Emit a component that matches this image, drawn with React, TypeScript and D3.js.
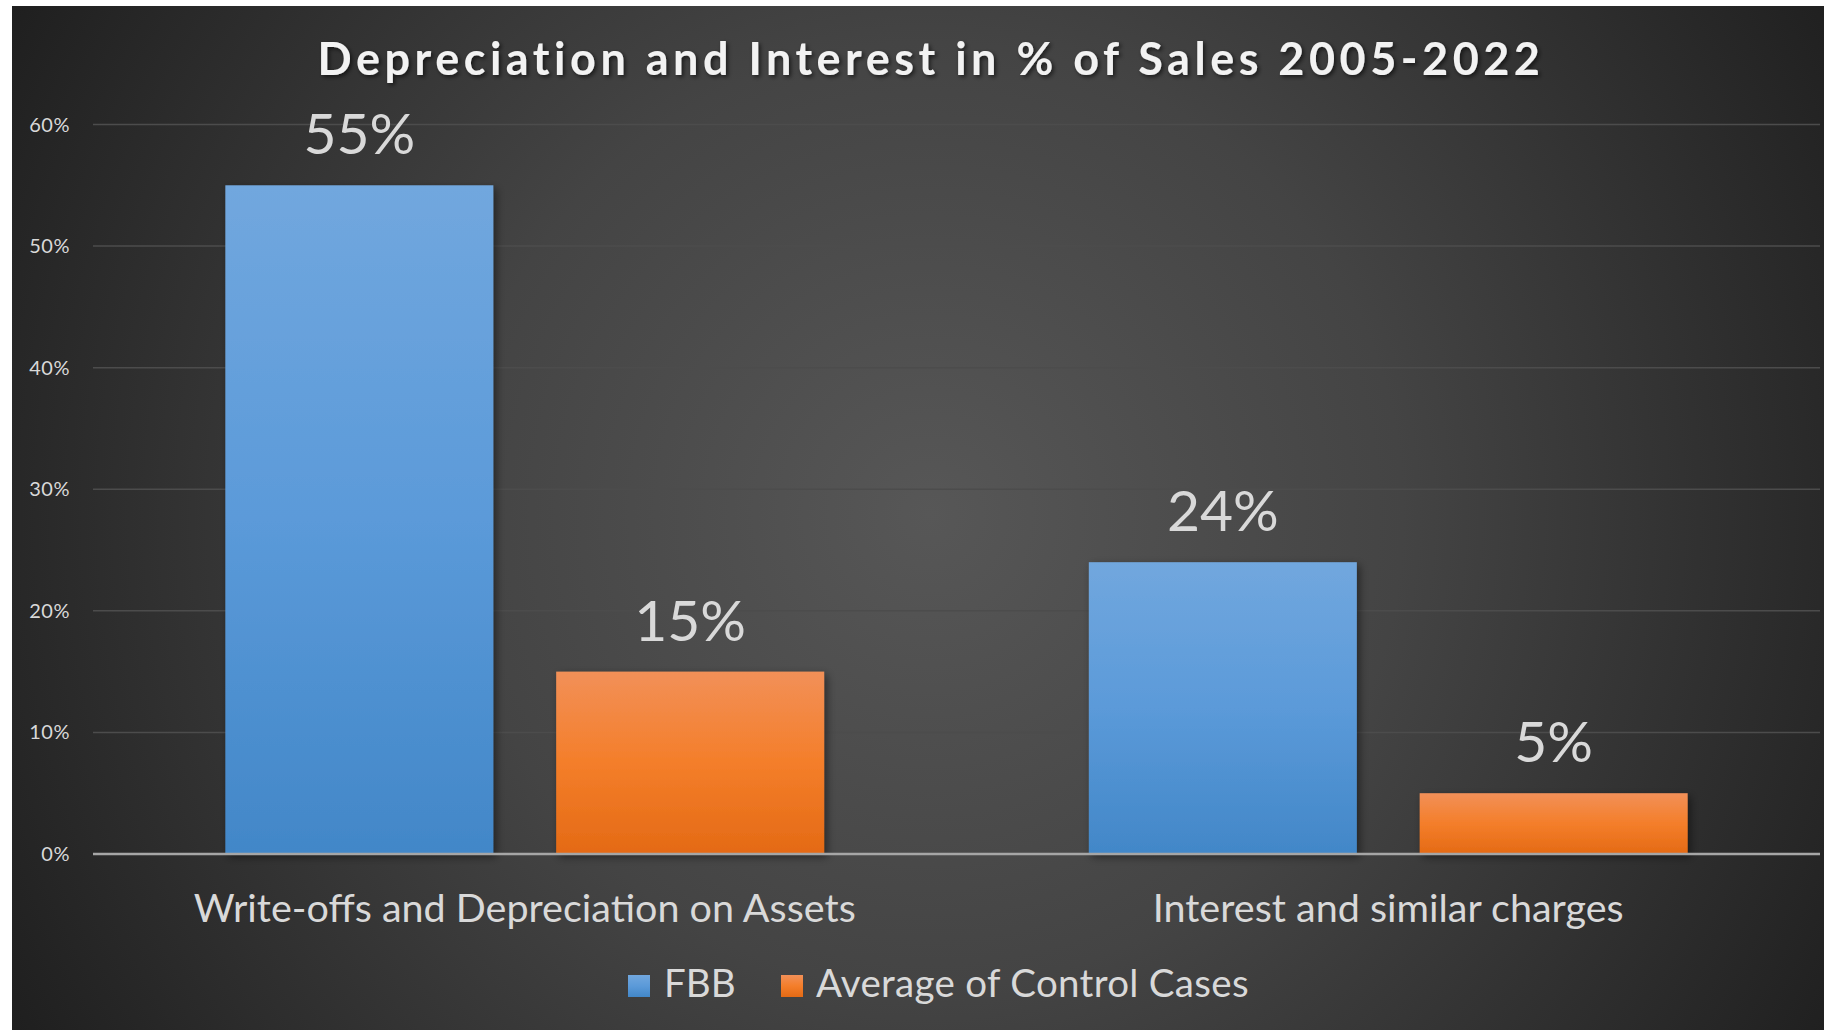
import React from 'react';
import * as d3 from 'd3';

const categories = ['Write-offs and Depreciation on Assets', 'Interest and similar charges'];
const seriesNames = ['FBB', 'Average of Control Cases'];
const fbbValues = [0.55, 0.24];
const controlValues = [0.15, 0.05];
const yTicks = [0, 0.1, 0.2, 0.3, 0.4, 0.5, 0.6];

const W = 1824;
const H = 1030;
const font = 'Lato, "Open Sans", sans-serif';

const App = () => {
  const plot = { left: 93, right: 1820, top: 124.5, bottom: 854 };

  const x0 = d3.scaleBand().domain(categories).range([plot.left, plot.right]);
  const x1 = d3
    .scaleBand()
    .domain(seriesNames)
    .range([0, x0.bandwidth()])
    .paddingInner(0.19)
    .paddingOuter(0.4);
  const y = d3.scaleLinear().domain([0, 0.6]).range([plot.bottom, plot.top]);
  const pct = d3.format('.0%');

  const rows = categories.map((c, i) => ({
    category: c,
    values: [
      { series: seriesNames[0], value: fbbValues[i], fill: 'url(#gBlue)' },
      { series: seriesNames[1], value: controlValues[i], fill: 'url(#gOrange)' },
    ],
  }));

  return (
    <svg width={W} height={H} style={{ position: 'absolute', left: 0, top: 0 }}>
      <defs>
        <radialGradient id="bg" gradientUnits="userSpaceOnUse" cx={930} cy={515} r={1050}>
          <stop offset="0" stopColor="#575757" />
          <stop offset="0.45" stopColor="#444" />
          <stop offset="1" stopColor="#1f1f1f" />
        </radialGradient>
        <linearGradient id="gBlue" x1="0" y1="0" x2="0" y2="1">
          <stop offset="0" stopColor="#71a7de" />
          <stop offset="0.5" stopColor="#5b9ad9" />
          <stop offset="1" stopColor="#4287c8" />
        </linearGradient>
        <linearGradient id="gOrange" x1="0" y1="0" x2="0" y2="1">
          <stop offset="0" stopColor="#f29058" />
          <stop offset="0.5" stopColor="#f47e2a" />
          <stop offset="1" stopColor="#e46a15" />
        </linearGradient>
        <filter id="barShadow" x="-10%" y="-10%" width="130%" height="130%">
          <feDropShadow dx="3" dy="3" stdDeviation="4" floodColor="#000" floodOpacity="0.45" />
        </filter>
        <filter id="titleShadow" x="-5%" y="-20%" width="110%" height="150%">
          <feDropShadow dx="2" dy="2" stdDeviation="2" floodColor="#000" floodOpacity="0.6" />
        </filter>
      </defs>

      <rect x={0} y={0} width={W} height={H} fill="#fff" />
      <rect x={12} y={6} width={W - 12} height={H - 6} fill="url(#bg)" />

      <text
        x={931}
        y={75}
        textAnchor="middle"
        fontFamily={font}
        fontWeight="bold"
        fontSize={45}
        letterSpacing={4.5}
        fill="#f2f2f2"
        filter="url(#titleShadow)"
      >
        Depreciation and Interest in % of Sales 2005-2022
      </text>

      {/* gridlines + y ticks */}
      {yTicks.map((t) => (
        <g key={t}>
          {t > 0 && (
            <line x1={plot.left} x2={plot.right} y1={y(t)} y2={y(t)} stroke="#4c4c4c" strokeWidth={1.5} />
          )}
          <text
            x={70}
            y={y(t)}
            dy="0.35em"
            textAnchor="end"
            fontFamily={font}
            fontSize={20}
            letterSpacing={0.5}
            fill="#d9d9d9"
          >
            {pct(t)}
          </text>
        </g>
      ))}

      {/* bars */}
      {rows.map((r) => (
        <g key={r.category} transform={`translate(${x0(r.category)},0)`}>
          {r.values.map((v) => (
            <g key={v.series}>
              <rect
                x={x1(v.series)}
                y={y(v.value)}
                width={x1.bandwidth()}
                height={y(0) - y(v.value)}
                fill={v.fill}
                filter="url(#barShadow)"
              />
              <text
                x={(x1(v.series) as number) + x1.bandwidth() / 2}
                y={y(v.value) - 31}
                textAnchor="middle"
                fontFamily={font}
                fontSize={57}
                fill="#d9d9d9"
              >
                {pct(v.value)}
              </text>
            </g>
          ))}
          <text
            x={x0.bandwidth() / 2}
            y={922}
            textAnchor="middle"
            fontFamily={font}
            fontSize={39.5}
            fill="#d9d9d9"
          >
            {r.category}
          </text>
        </g>
      ))}

      <line x1={plot.left} x2={plot.right} y1={y(0)} y2={y(0)} stroke="#a6a6a6" strokeWidth={2.5} />

      {/* legend */}
      <g fontFamily={font} fontSize={38.5} fill="#d9d9d9">
        <rect x={628} y={975} width={22} height={22} fill="url(#gBlue)" />
        <text x={664} y={997}>{seriesNames[0]}</text>
        <rect x={781} y={975} width={22} height={22} fill="url(#gOrange)" />
        <text x={816} y={997} letterSpacing={0.3}>{seriesNames[1]}</text>
      </g>
    </svg>
  );
};

export default App;
